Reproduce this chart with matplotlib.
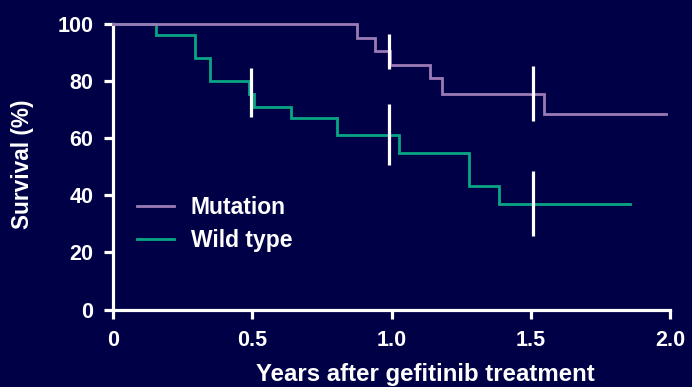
import matplotlib
matplotlib.use("Agg")
import matplotlib.pyplot as plt

plt.rcParams['font.family'] = ['Liberation Sans', 'DejaVu Sans']
plt.rcParams['font.weight'] = 'bold'

# Data
mut_t = [0, 0.877, 0.939, 0.996, 1.137, 1.181, 1.546, 1.987]
mut_s = [100, 95.3, 90.6, 85.8, 81.1, 75.4, 68.6, 68.6]
wt_t = [0, 0.153, 0.294, 0.349, 0.487, 0.508, 0.638, 0.806, 1.026, 1.277, 1.387, 1.858]
wt_s = [100, 96.1, 88.2, 80.2, 75.6, 71.0, 67.0, 61.1, 55.0, 43.2, 37.0, 37.0]

censor_x = [0.497, 0.99, 0.99, 1.507, 1.507]
censor_lo = [67.6, 84.5, 50.5, 66.2, 25.9]
censor_hi = [84.6, 96.7, 72.0, 85.4, 48.4]

x_ticks = [0, 0.5, 1.0, 1.5, 2.0]
x_ticklabels = ["0", "0.5", "1.0", "1.5", "2.0"]
y_ticks = [0, 20, 40, 60, 80, 100]
y_ticklabels = ["0", "20", "40", "60", "80", "100"]

BG = '#000046'
MUT = '#9b7bb6'
WT = '#0aa584'

fig = plt.figure(figsize=(6.92, 3.87), dpi=100, facecolor=BG)
ax = fig.add_axes([113/692, 1-309.5/387, 557/692, 285.2/387], facecolor=BG)

ax.plot(wt_t, wt_s, drawstyle='steps-post', color=WT, lw=2.0, label='Wild type',
        zorder=3, clip_on=False, solid_joinstyle='miter')
ax.plot(mut_t, mut_s, drawstyle='steps-post', color=MUT, lw=2.0, label='Mutation',
        zorder=4, clip_on=False, solid_joinstyle='miter')
ax.vlines(censor_x, censor_lo, censor_hi, colors='white', lw=2.3, zorder=5, clip_on=False)

ax.set_xlim(0, 2.0)
ax.set_ylim(0, 100)
ax.set_xticks(x_ticks)
ax.set_xticklabels(x_ticklabels)
ax.set_yticks(y_ticks)
ax.set_yticklabels(y_ticklabels)

for s in ['top', 'right']:
    ax.spines[s].set_visible(False)
for s in ['left', 'bottom']:
    ax.spines[s].set_color('white')
    ax.spines[s].set_linewidth(2.3)

ax.tick_params(colors='white', width=2.3, length=6.5, labelsize=15.5)
ax.tick_params(axis='x', pad=8.5)
ax.tick_params(axis='y', pad=7.5)
for lab in ax.get_xticklabels() + ax.get_yticklabels():
    lab.set_fontweight('bold')

ax.set_xlabel('Years after gefitinib treatment', color='white', fontsize=17.3, fontweight='bold')
ax.xaxis.label.set_va('baseline')
ax.xaxis.set_label_coords((425-113)/557, (309.5-381)/285.2)
ax.set_ylabel('Survival (%)', color='white', fontsize=16.3, fontweight='bold')
ax.yaxis.label.set_va('center')
ax.yaxis.set_label_coords((23-113)/557, (309.5-164)/285.2)

h, l = ax.get_legend_handles_labels()
leg = ax.legend(h[::-1], l[::-1], loc='upper left', bbox_to_anchor=((137-113)/557, (309.5-196)/285.2),
                frameon=False, fontsize=16.5, handlelength=1.62, handletextpad=0.72,
                labelspacing=0.45, borderpad=0, borderaxespad=0)
for t in leg.get_texts():
    t.set_color('white')
    t.set_fontweight('bold')

fig.savefig('out.png', dpi=100, facecolor=BG)
